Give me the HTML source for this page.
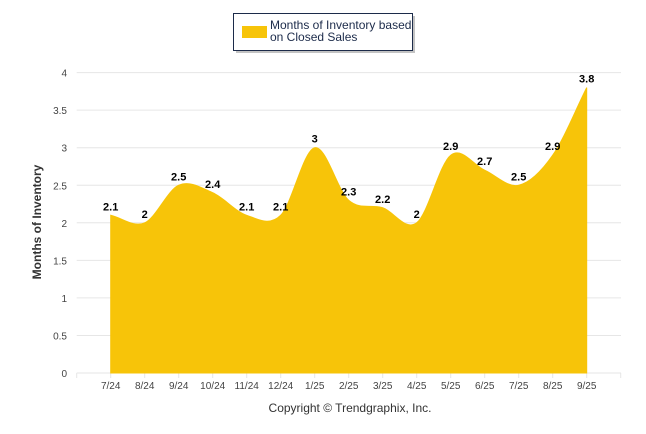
<!DOCTYPE html>
<html><head><meta charset="utf-8"><style>
body{margin:0;background:#fff;}
svg{display:block;font-family:"Liberation Sans",Arial,sans-serif;}
</style></head><body>
<svg width="646" height="434" viewBox="0 0 646 434">
<g id="grid"></g>
<g id="yl"></g>
<path id="area" fill="#f7c409" stroke="#f7c409" stroke-width="1"/>
<g id="xl"></g>
<g id="dl"></g>
<text transform="translate(41,222) rotate(-90)" text-anchor="middle" font-size="12" font-weight="bold" fill="#333">Months of Inventory</text>
<text x="350" y="412" text-anchor="middle" font-size="12" fill="#333">Copyright © Trendgraphix, Inc.</text>
<g>
<rect x="236" y="16" width="179" height="37" fill="#888" opacity="0.5"/>
<rect x="233.5" y="13.5" width="179" height="37" fill="#fff" stroke="#1c2b4a" stroke-width="1"/>
<rect x="242" y="26" width="25" height="12" fill="#f7c409"/>
<text x="270" y="29" font-size="12" fill="#1c2b4a">Months of Inventory based</text>
<text x="270" y="41" font-size="12" fill="#1c2b4a">on Closed Sales</text>
</g>
</svg>
<script>
const categories=["7/24","8/24","9/24","10/24","11/24","12/24","1/25","2/25","3/25","4/25","5/25","6/25","7/25","8/25","9/25"];
const values=[2.1,2,2.5,2.4,2.1,2.1,3,2.3,2.2,2,2.9,2.7,2.5,2.9,3.8];
const yTicks=[0,0.5,1,1.5,2,2.5,3,3.5,4];
const yTickLabels=["0","0.5","1","1.5","2","2.5","3","3.5","4"];
const NS="http://www.w3.org/2000/svg";
const x0=110.7,step=34,yZero=373,yUnit=75.1;
const X=i=>x0+i*step, Y=v=>yZero-v*yUnit;
function mk(tag,attrs,parent,txt){const e=document.createElementNS(NS,tag);for(const k in attrs)e.setAttribute(k,attrs[k]);if(txt!==undefined)e.textContent=txt;parent.appendChild(e);return e;}
const grid=document.getElementById('grid'),yl=document.getElementById('yl'),xl=document.getElementById('xl'),dl=document.getElementById('dl');
yTicks.forEach((t,i)=>{
  const l=mk('line',{x1:76.7,x2:621,y1:Y(t),y2:Y(t),stroke:'#e6e6e6','stroke-width':1},grid);
  
  
  const tx=mk('text',{x:67,y:Y(t)+4,'text-anchor':'end','font-size':10,fill:'#444'},yl,yTickLabels[i]);
  
  
});
for(let k=-1;k<=categories.length;k++){
  const tk=mk('line',{x1:X(k),x2:X(k),y1:yZero,y2:yZero+5,stroke:'#e6e6e6'},grid);
  
  
}
const pts=values.map((v,i)=>[X(i),Y(v)]);
const n=pts.length;
let d=`M${pts[0][0]},${yZero} L${pts[0][0]},${pts[0][1]}`;
function tan(i){
  const a=pts[Math.max(i-1,0)],b=pts[Math.min(i+1,n-1)];
  const f=(i===0||i===n-1)?1:0.5;
  return [(b[0]-a[0])*f,(b[1]-a[1])*f];
}
for(let i=1;i<n;i++){
  const a=pts[i-1],b=pts[i],ta=tan(i-1),tb=tan(i);
  d+=` C${a[0]+ta[0]/3},${a[1]+ta[1]/3} ${b[0]-tb[0]/3},${b[1]-tb[1]/3} ${b[0]},${b[1]}`;
}
d+=` L${pts[n-1][0]},${yZero} Z`;
document.getElementById('area').setAttribute('d',d);
categories.forEach((c,i)=>{
  const t=mk('text',{x:X(i),y:389,'text-anchor':'middle','font-size':10,fill:'#444'},xl,c);
  
  
});
values.forEach((v,i)=>{
  const t=mk('text',{x:X(i),y:Y(v)-5,'text-anchor':'middle','font-size':11,'font-weight':'bold',fill:'#000'},dl,String(v));
  
  
});
</script>
</body></html>
